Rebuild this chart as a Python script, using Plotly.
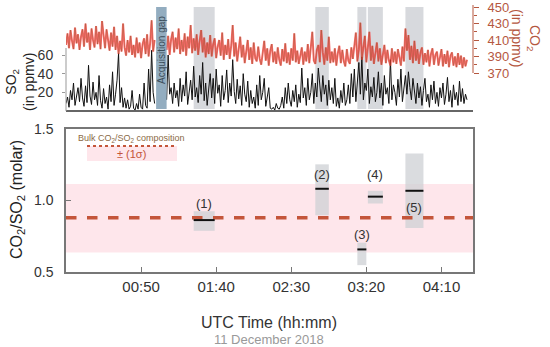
import plotly.graph_objects as go

# ---------------- data ----------------
# CO2 (ppmv), one value per minute from 00:00 (None = acquisition gap)
co2 = [404, 418, 400, 422, 409, 399, 425, 406, 417, 398,
       414, 423, 402, 430, 407, 419, 398, 424, 410, 401,
       427, 405, 420, 399, 433, 412, 400, 423, 406, 397,
       419, 402, 426, 398, 415, 393, 409, 396, 430, 401,
       391, 410, 395, 415, 392, 404, 389, 413, 394, 407,
       388, 405, 412, 393, 417, 390, 406, 434, 396, 410,
       None, None, None, None, None, None, None,
       398, 415, 392, 411, 420, 395, 413, 399, 424, 393,
       410, 396, 418, 391, 414, 400, 428, 394, 412, 397,
       417, 392, 409, 422, 395, 413, 389, 407, 393, 416,
       390, 405, 412, 388, 402, 410, 391, 419, 386, 404,
       392, 411, 387, 403, 428, 390, 407, 384, 399, 414,
       389, 404, 382, 400, 410, 386, 401, 381, 407, 388,
       384, 402, 387, 380, 398, 409, 385, 400, 379, 397,
       405, 383, 396, 381, 401, 386, 379, 399, 384, 406,
       382, 395, 380, 400, 385, 418, 383, 397, 381, 394,
       401, 380, 396, 384, 405, 382, 399, 420, 385, 381,
       398, 404, 383, 422, 395, 380, 401, 385, 414, 382,
       396, 383, 400, 379, 394, 403, 382, 398, 384, 378,
       399, 385, 381, 401, 387, 405, 419, 384, 398, 431,
       386, 401, 415, 383, 399, 420, 385, 403, 381, 396,
       407, 384, 400, 380, 395, 404, 382, 398, 385, 379,
       400, 383, 396, 381, 399, 386, 379, 402, 384, 424,
       397, 416, 386, 403, 382, 409, 385, 399, 381, 395,
       401, 380, 394, 383, 398, 378, 393, 400, 380, 392,
       396, 379, 391, 399, 378, 393, 381, 397, 377, 391,
       395, 379, 390, 377, 394, 380, 391, 376, 389, 378, 386]

# SO2 (ppmv), one value per minute from 00:00
so2 = [8, 15, 4, 22, 12, 30, 6, 18, 25, 10,
       35, 14, 5, 27, 9, 49, 16, 7, 31, 12,
       20, 6, 38, 11, 3, 24, 8, 15, 2, 28,
       10, 42, 6, 18, 33, 62, 9, 25, 4, 14,
       3, 12, 2, 5, 22, 3, 1, 8, 2, 18,
       4, 2, 30, 6, 3, 45, 10, 65, 20, 8,
       None, None, None, None, None, None, None,
       12, 60, 18, 25, 8, 30, 14, 22, 5, 35,
       10, 28, 16, 42, 7, 20, 33, 12, 48, 15,
       25, 9, 38, 18, 52, 11, 30, 6, 24, 40,
       14, 35, 8, 45, 19, 28, 5, 38, 12, 22,
       44, 9, 30, 16, 55, 21, 8, 34, 13, 27,
       6, 40, 18, 10, 32, 4, 22, 8, 15, 3,
       28, 6, 38, 12, 20, 35, 5, 14, 25, 3,
       2, 4, 1, 8, 3, 2, 6, 15, 3, 25,
       8, 30, 12, 5, 22, 10, 28, 4, 18, 9,
       46, 14, 25, 6, 35, 12, 20, 40, 8, 30,
       15, 46, 22, 10, 38, 18, 28, 6, 33, 12,
       25, 8, 35, 5, 14, 3, 22, 9, 30, 6,
       12, 28, 8, 40, 15, 45, 10, 32, 52, 18,
       58, 12, 30, 22, 45, 8, 26, 15, 36, 10,
       20, 42, 14, 30, 6, 38, 18, 25, 8, 55,
       12, 28, 20, 6, 34, 15, 45, 10, 22, 38,
       18, 42, 25, 12, 35, 20, 8, 30, 14, 26,
       6, 22, 35, 10, 18, 4, 28, 12, 32, 8,
       20, 5, 25, 14, 30, 7, 18, 36, 10, 22,
       4, 28, 12, 20, 6, 32, 10, 24, 8, 18, 12]

t_co2 = list(range(len(co2)))
t_so2 = list(range(len(so2)))

gap_start, gap_end = 60, 67

# plume events (minutes after 00:00)
ev_labels = ["(1)", "(2)", "(3)", "(4)", "(5)"]
ev_start = [85, 166, 194, 201, 226]
ev_end = [99, 175, 200, 211, 238]
ev_ratio = [0.863, 1.082, 0.658, 1.027, 1.068]
ev_low = [0.788, 0.897, 0.548, 0.979, 0.808]
ev_high = [0.925, 1.253, 0.705, 1.068, 1.329]
ev_label_y = [0.98, 1.18, 0.76, 1.18, 0.95]

bulk_ratio = 0.88
bulk_low, bulk_high = 0.637, 1.116

tick_vals = [50, 100, 150, 200, 250]
tick_text = ["00:50", "01:40", "02:30", "03:20", "04:10"]

# ---------------- figure ----------------
FONT = "Liberation Sans, Arial, sans-serif"
BROWN = "#b5573f"
W, H = 550, 347
XL, XR = 66, 473


def px(x):
    return x / W


def py(y):
    return 1 - y / H


fig = go.Figure()

fig.add_trace(go.Scatter(x=t_so2, y=so2, mode="lines", line=dict(color="#111111", width=1),
                         xaxis="x2", yaxis="y2", showlegend=False, connectgaps=False))
fig.add_trace(go.Scatter(x=t_co2, y=co2, mode="lines", line=dict(color="rgba(255,45,45,0.7)", width=2),
                         xaxis="x2", yaxis="y3", showlegend=False, connectgaps=False))
fig.add_trace(go.Scatter(x=t_co2, y=co2, mode="lines", line=dict(color="rgba(130,85,40,0.75)", width=0.5),
                         xaxis="x2", yaxis="y3", showlegend=False, connectgaps=False))

fig.add_trace(go.Scatter(x=[0, 271], y=[bulk_ratio, bulk_ratio], mode="lines",
                         line=dict(color="#c4553a", width=3.5, dash="dash"),
                         xaxis="x", yaxis="y", showlegend=False))

shapes = []
shapes.append(dict(type="rect", xref="x", yref="y", x0=0, x1=271, y0=bulk_low, y1=bulk_high,
                   fillcolor="rgba(253,200,210,0.45)", line=dict(width=0), layer="below"))
for s, e, lo, hi, r in zip(ev_start, ev_end, ev_low, ev_high, ev_ratio):
    shapes.append(dict(type="rect", xref="x", yref="y", x0=s, x1=e, y0=lo, y1=hi,
                       fillcolor="rgba(205,208,212,0.75)", line=dict(width=0), layer="below"))
    shapes.append(dict(type="line", xref="x", yref="y", x0=s, x1=e, y0=r, y1=r,
                       line=dict(color="#111111", width=2)))
    shapes.append(dict(type="rect", xref="x2", yref="paper", x0=s, x1=e, y0=py(109), y1=py(7),
                       fillcolor="rgba(205,208,212,0.8)", line=dict(width=0), layer="below"))
shapes.append(dict(type="rect", xref="x2", yref="paper", x0=gap_start, x1=gap_end, y0=py(109), y1=py(7),
                   fillcolor="#93adc0", line=dict(width=0), layer="above"))
shapes.append(dict(type="line", xref="paper", yref="paper", x0=px(XL), x1=px(XR), y0=py(111), y1=py(111),
                   line=dict(color="#333333", width=1.5)))
shapes.append(dict(type="line", xref="paper", yref="paper", x0=px(XL), x1=px(XL), y0=py(111), y1=py(48),
                   line=dict(color="#999999", width=1)))
shapes.append(dict(type="line", xref="paper", yref="paper", x0=px(XR), x1=px(XR), y0=py(73), y1=py(5),
                   line=dict(color=BROWN, width=1)))
shapes.append(dict(type="rect", xref="paper", yref="paper", x0=px(87), x1=px(177), y0=py(161), y1=py(146),
                   fillcolor="rgba(253,200,210,0.45)", line=dict(width=0)))
shapes.append(dict(type="line", xref="paper", yref="paper", x0=px(87), x1=px(177), y0=py(146), y1=py(146),
                   line=dict(color="#c4553a", width=2, dash="dot")))


def ann(x, y, text, size, color, angle=0, xref="paper", yref="paper"):
    return dict(x=x, y=y, xref=xref, yref=yref, text=text, showarrow=False, textangle=angle,
                xanchor="center", yanchor="middle", font=dict(family=FONT, size=size, color=color))


annotations = []
for lab, s, e, ly in zip(ev_labels, ev_start, ev_end, ev_label_y):
    annotations.append(ann((s + e) / 2, ly, lab, 13, "#333333", xref="x", yref="y"))
annotations += [
    ann(px(131), py(139), "Bulk CO<sub>2</sub>/SO<sub>2</sub> composition", 9, "#8a6a45"),
    ann(px(131), py(154), "± (1σ)", 11, "#c4553a"),
    ann(px(162), py(50), "Acquisition gap", 10, "#3d4f5c", angle=-90),
    ann(px(20), py(82), "SO<sub>2</sub><br>(in ppmv)", 14, "#222222", angle=-90),
    ann(px(526), py(38), "CO<sub>2</sub><br>(in ppmv)", 14, BROWN, angle=90),
    ann(px(17), py(200), "CO<sub>2</sub>/SO<sub>2</sub> (molar)", 16, "#222222", angle=-90),
    ann(px(269), py(322), "UTC Time (hh:mm)", 16, "#333333"),
    ann(px(269), py(339), "11 December 2018", 13, "#999999"),
]

fig.update_layout(
    width=W, height=H,
    margin=dict(l=0, r=0, t=0, b=0),
    paper_bgcolor="white", plot_bgcolor="rgba(0,0,0,0)",
    font=dict(family=FONT, color="#333333"),
    xaxis=dict(domain=[px(XL), px(XR)], range=[0, 271], anchor="y", automargin=False,
               tickvals=tick_vals, ticktext=tick_text, ticks="inside", ticklen=5, tickcolor="#777777",
               showline=True, mirror=True, linecolor="#777777", linewidth=1.5, showgrid=False, zeroline=False,
               tickfont=dict(size=15, color="#333333")),
    yaxis=dict(domain=[py(272), py(129)], range=[0.5, 1.5], anchor="x", automargin=False,
               tickvals=[0.5, 1.0, 1.5], ticktext=["0.5", "1.0", "1.5"], ticks="inside", ticklen=5,
               tickcolor="#777777", ticklabelstandoff=8,
               showline=True, mirror=True, linecolor="#777777", linewidth=1.5, showgrid=False, zeroline=False,
               tickfont=dict(size=14, color="#333333")),
    xaxis2=dict(domain=[px(XL), px(XR)], range=[0, 271], anchor="y2", showticklabels=False, automargin=False,
                showline=False, showgrid=False, zeroline=False, ticks=""),
    yaxis2=dict(domain=[py(111), py(5)], range=[0, (111 - 5) * 60 / 56], anchor="x2", automargin=False,
                tickvals=[20, 40, 60], ticks="outside", ticklen=3, tickcolor="#999999",
                showline=False, showgrid=False, zeroline=False, ticklabelstandoff=6,
                tickfont=dict(size=14, color="#333333")),
    yaxis3=dict(domain=[py(111), py(5)], range=[450 - (111 - 7) * 80 / 66, 450 + 2 * 80 / 66],
                overlaying="y2", side="right", anchor="x2", automargin=False, ticklabeloverflow="allow",
                tickvals=[370, 390, 410, 430, 450], ticks="outside", ticklen=5, tickcolor=BROWN,
                minor=dict(tickvals=[380, 400, 420, 440], ticks="outside", ticklen=3, tickcolor=BROWN),
                showline=False, showgrid=False, zeroline=False, ticklabelstandoff=6,
                tickfont=dict(size=13, color=BROWN)),
    shapes=shapes,
    annotations=annotations,
)

fig.write_html("out.html", config={"displayModeBar": False},
               post_script="document.body.style.margin='0';document.body.style.padding='0';")
